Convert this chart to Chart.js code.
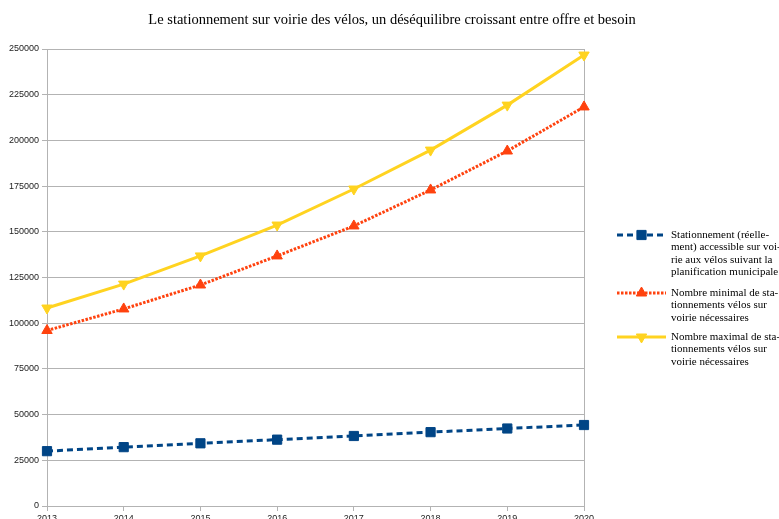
<!DOCTYPE html>
<html><head><meta charset="utf-8">
<script src="https://cdn.jsdelivr.net/npm/chart.js@4/dist/chart.umd.min.js"></script>
<style>html,body{margin:0;padding:0;background:#fff;overflow:hidden;width:779px;height:519px}</style>
</head><body>
<canvas id="c" width="779" height="528" style="display:block"></canvas>
<script>
const TITLE = "Le stationnement sur voirie des vélos, un déséquilibre croissant entre offre et besoin";
const years = ["2013","2014","2015","2016","2017","2018","2019","2020"];
const actualParking = [30000, 32200, 34300, 36300, 38300, 40400, 42400, 44300];
const minNeeded = [96000, 107800, 120900, 136800, 153200, 172900, 194200, 218300];
const maxNeeded = [108300, 121400, 136800, 153700, 173400, 194700, 219300, 246700];
const legendLines = [
  ["Stationnement (réelle-","ment) accessible sur voi-","rie aux vélos suivant la","planification municipale"],
  ["Nombre minimal de sta-","tionnements vélos sur","voirie nécessaires"],
  ["Nombre maximal de sta-","tionnements vélos sur","voirie nécessaires"]
];
const yTicks = [0,25000,50000,75000,100000,125000,150000,175000,200000,225000,250000];

const TOP = 49, BOTTOM = 506, LEFT = 47, RIGHT = 584, H = 528;

const titlePlugin = {
  id: 'titleP',
  afterDraw(chart) {
    const ctx = chart.ctx;
    ctx.save();
    ctx.font = '14.5px "Liberation Serif", serif';
    ctx.fillStyle = '#000';
    ctx.textAlign = 'center';
    ctx.textBaseline = 'middle';
    ctx.fillText(TITLE, 392, 20);
    ctx.restore();
  }
};
const legendPlugin = {
  id: 'legendP',
  afterDraw(chart) {
    const ctx = chart.ctx;
    const ys = [235, 293, 337];
    ctx.save();
    chart.data.datasets.forEach((ds, i) => {
      const y = ys[i];
      ctx.strokeStyle = ds.borderColor;
      ctx.lineWidth = ds.borderWidth;
      ctx.setLineDash(ds.borderDash || []);
      ctx.beginPath(); ctx.moveTo(617, y); ctx.lineTo(666, y); ctx.stroke();
      ctx.setLineDash([]);
      ctx.fillStyle = ds.backgroundColor;
      ctx.strokeStyle = ds.borderColor;
      ctx.lineWidth = 1;
      Chart.helpers.drawPoint(ctx, {pointStyle: ds.pointStyle, radius: ds.pointRadius, rotation: ds.pointRotation || 0, borderWidth: 1}, 641.5, y);
      ctx.font = '11px "Liberation Serif", serif';
      ctx.fillStyle = '#000';
      ctx.textAlign = 'left';
      ctx.textBaseline = 'middle';
      legendLines[i].forEach((t, j) => ctx.fillText(t, 671, y + j * 12.4));
    });
    ctx.restore();
  }
};

new Chart(document.getElementById('c'), {
  type: 'line',
  data: {
    labels: years,
    datasets: [
      { label: legendLines[0].join(' '), data: actualParking, borderColor: '#004586', backgroundColor: '#004586',
        borderWidth: 3, borderDash: [6, 4], pointStyle: 'rect', pointRadius: 6.5, pointBorderWidth: 1, tension: 0 },
      { label: legendLines[1].join(' '), data: minNeeded, borderColor: '#ff420e', backgroundColor: '#ff420e',
        borderWidth: 3, borderDash: [2.5, 1.5], pointStyle: 'triangle', pointRadius: 6, pointBorderWidth: 1, tension: 0 },
      { label: legendLines[2].join(' '), data: maxNeeded, borderColor: '#ffd320', backgroundColor: '#ffd320',
        borderWidth: 3, pointStyle: 'triangle', pointRotation: 180, pointRadius: 6, pointBorderWidth: 1, tension: 0 }
    ]
  },
  options: {
    responsive: false,
    animation: false,
    devicePixelRatio: 1,
    layout: { padding: { top: TOP, right: 779 - RIGHT, left: 0, bottom: 0 } },
    plugins: { legend: { display: false }, title: { display: false }, tooltip: { enabled: false } },
    scales: {
      x: {
        offset: false,
        afterFit(s) { s.height = H - BOTTOM; },
        grid: {
          color: (c) => (c.index === 0 || c.index === years.length - 1) ? '#b3b3b3' : 'rgba(0,0,0,0)',
          tickColor: '#b3b3b3', tickLength: 5, drawOnChartArea: true, lineWidth: 1
        },
        border: { color: '#b3b3b3' },
        ticks: { color: '#222', font: { family: '"Liberation Sans", sans-serif', size: 9 }, padding: 2, maxRotation: 0 }
      },
      y: {
        min: 0, max: 250000,
        afterFit(s) { s.width = LEFT; },
        afterBuildTicks(s) { s.ticks = yTicks.map(v => ({ value: v })); },
        grid: { color: '#b3b3b3', tickColor: '#b3b3b3', tickLength: 5, lineWidth: 1 },
        border: { color: '#b3b3b3' },
        ticks: { color: '#222', font: { family: '"Liberation Sans", sans-serif', size: 9 }, padding: 3,
                 callback: (v) => String(v) }
      }
    }
  },
  plugins: [titlePlugin, legendPlugin]
});
</script>
</body></html>
